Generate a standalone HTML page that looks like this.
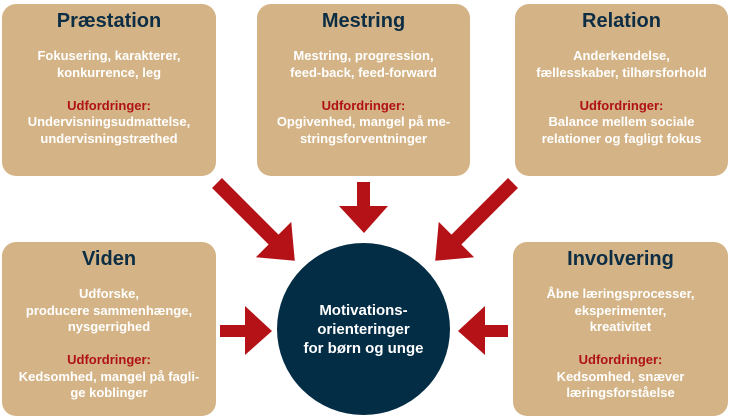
<!DOCTYPE html>
<html><head><meta charset="utf-8"><style>
body{margin:0;width:730px;height:417px;background:#fff;position:relative;overflow:hidden;font-family:"Liberation Sans","DejaVu Sans",sans-serif;}
.b{position:absolute;background:#d4b486;border-radius:14px;color:#fff;text-align:center;font-size:13px;line-height:16.5px;font-weight:bold;}
.b h{display:block;color:#0d2d44;font-weight:bold;font-size:20px;line-height:22px;margin-top:6px;margin-bottom:16px;}
.r{color:#b01116;}
svg{position:absolute;left:0;top:0;}
.c{position:absolute;left:277px;top:243px;width:173px;height:172px;border-radius:50%;background:#032c45;color:#fff;font-weight:bold;font-size:15px;line-height:19px;text-align:center;display:flex;align-items:center;justify-content:center;}
</style></head><body>
<div class="b" style="left:2px;top:4px;width:214px;height:172px"><h>Præstation</h>Fokusering, karakterer,<br>konkurrence, leg<br><br><span class="r">Udfordringer:</span><br>Undervisningsudmattelse,<br>undervisningstræthed</div>
<div class="b" style="left:257px;top:4px;width:213px;height:172px"><h>Mestring</h>Mestring, progression,<br>feed-back, feed-forward<br><br><span class="r">Udfordringer:</span><br>Opgivenhed, mangel på me-<br>stringsforventninger</div>
<div class="b" style="left:515px;top:4px;width:213px;height:172px"><h>Relation</h>Anderkendelse,<br>fællesskaber, tilhørsforhold<br><br><span class="r">Udfordringer:</span><br>Balance mellem sociale<br>relationer og fagligt fokus</div>
<div class="b" style="left:2px;top:242px;width:214px;height:174px"><h>Viden</h>Udforske,<br>producere sammenhænge,<br>nysgerrighed<br><br><span class="r">Udfordringer:</span><br>Kedsomhed, mangel på fagli-<br>ge koblinger</div>
<div class="b" style="left:513px;top:242px;width:215px;height:174px"><h>Involvering</h>Åbne læringsprocesser,<br>eksperimenter,<br>kreativitet<br><br><span class="r">Udfordringer:</span><br>Kedsomhed, snæver<br>læringsforståelse</div>
<svg width="730" height="417">
<defs><polygon id="a" points="0,-7 80,-7 80,-25 110,0 80,25 80,7 0,7" fill="#b41217"/></defs>
<use href="#a" transform="translate(217,183) rotate(45)"/>
<use href="#a" transform="translate(513,183) rotate(135)"/>
<polygon points="357,182 370,182 370,206 388,206 364,233 339,206 357,206" fill="#b41217"/>
<polygon points="220,325 245,325 245,306 272,331 245,355 245,337 220,337" fill="#b41217"/>
<polygon points="508,325 485,325 485,306 458,331 485,355 485,337 508,337" fill="#b41217"/>
</svg>
<div class="c">Motivations-<br>orienteringer<br>for børn og unge</div>
</body></html>
